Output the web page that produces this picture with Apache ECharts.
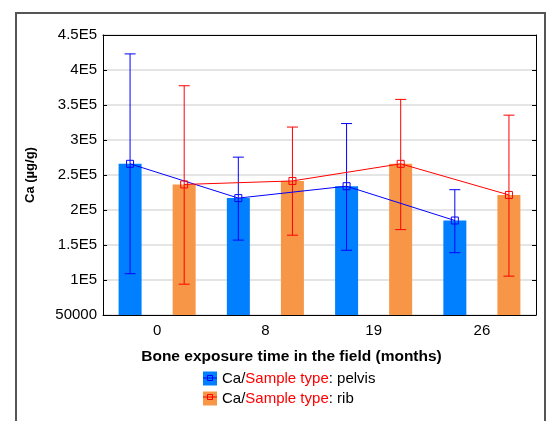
<!DOCTYPE html>
<html>
<head>
<meta charset="utf-8">
<script src="https://cdn.jsdelivr.net/npm/echarts@6/dist/echarts.min.js"></script>
<title>Ca</title>
</head>
<body style="margin:0">
<style>
  html, body, #main { width: 552px; height: 421px; margin: 0; background: #fff; }
</style>
<div id="main"></div>
<script type="text/javascript">
// categories (months)
var months = ['0', '8', '19', '26'];
// Ca means and error bar ends
var pelvisMean = [266000, 217000, 234000, 185000];
var pelvisLow  = [109000, 157000, 142500, 139000];
var pelvisHigh = [423000, 275500, 323500, 229000];
var ribMean = [236500, 241500, 266000, 221500];
var ribLow  = [94000, 164000, 172000, 105500];
var ribHigh = [377500, 318500, 358000, 335500];

var blueBar = '#0080ff', orangeBar = '#f79646';
var blueLine = '#0000ff', redLine = '#ff0000';
var font = 'Arial, "Liberation Sans", sans-serif';

function pts(vals, off) {
  return vals.map(function (v, i) { return [i + off, v]; });
}
function errs(lo, hi, off) {
  return lo.map(function (v, i) { return [i + off, v, hi[i]]; });
}
function errRender(color) {
  return function (params, api) {
    var lo = api.coord([api.value(0), api.value(1)]);
    var hi = api.coord([api.value(0), api.value(2)]);
    var w = 5.5;
    var st = { stroke: color, lineWidth: 1 };
    return {
      type: 'group',
      children: [
        { type: 'line', shape: { x1: lo[0], y1: lo[1], x2: hi[0], y2: hi[1] }, style: st },
        { type: 'line', shape: { x1: lo[0] - w, y1: lo[1], x2: lo[0] + w, y2: lo[1] }, style: st },
        { type: 'line', shape: { x1: hi[0] - w, y1: hi[1], x2: hi[0] + w, y2: hi[1] }, style: st }
      ]
    };
  };
}

var myChart = echarts.init(document.getElementById('main'));

var legendNames = { pelvis: 'pelvis', rib: 'rib' };

var option = {
  animation: false,
  grid: { left: 103, top: 35, width: 433, height: 280 },
  xAxis: [
    {
      type: 'category', data: months, position: 'bottom',
      axisLine: { onZero: false, lineStyle: { color: '#000' } },
      axisTick: { inside: true, alignWithLabel: true, length: 4, lineStyle: { color: '#000' } },
      axisLabel: { color: '#000', fontSize: 15, fontFamily: font, margin: 8 },
      name: 'Bone exposure time in the field (months)',
      nameLocation: 'middle', nameGap: 34,
      nameTextStyle: { color: '#000', fontSize: 15.5, fontWeight: 'bold', fontFamily: font, padding: [0, 56, 0, 0] }
    },
    {
      type: 'category', data: months, position: 'top',
      axisLine: { onZero: false, lineStyle: { color: '#000' } },
      axisTick: { inside: true, alignWithLabel: true, length: 4, lineStyle: { color: '#000' } },
      axisLabel: { show: false }
    },
    { type: 'value', min: -0.5, max: 3.5, show: false }
  ],
  yAxis: [
    {
      type: 'value', min: 50000, max: 450000, interval: 50000,
      axisLine: { show: true, onZero: false, lineStyle: { color: '#000' } },
      axisTick: { show: true, inside: true, length: 4, lineStyle: { color: '#000' } },
      splitLine: { lineStyle: { color: '#dcdcdc', width: 1.5 } },
      axisLabel: {
        color: '#000', fontSize: 15, fontFamily: font, margin: 6,
        formatter: function (v) { return v === 50000 ? '50000' : (v / 100000) + 'E5'; }
      },
      name: 'Ca (µg/g)', nameLocation: 'middle', nameGap: 66,
      nameTextStyle: { color: '#000', fontSize: 13, fontWeight: 'bold', fontFamily: font }
    },
    {
      type: 'value', min: 50000, max: 450000, interval: 50000, position: 'right',
      axisLine: { show: true, onZero: false, lineStyle: { color: '#000' } },
      axisTick: { show: true, inside: true, length: 4, lineStyle: { color: '#000' } },
      axisLabel: { show: false }, splitLine: { show: false }
    }
  ],
  legend: {
    data: ['pelvis', 'rib'],
    orient: 'vertical', left: 203, top: 371, padding: 0,
    itemWidth: 14, itemHeight: 14, itemGap: 5,
    icon: 'rect',
    textStyle: {
      fontSize: 15, fontFamily: font, color: '#000',
      rich: {
        k: { fontSize: 15, fontFamily: font, color: '#000' },
        r: { fontSize: 15, fontFamily: font, color: '#ff0000' }
      }
    },
    formatter: function (name) { return '{k|Ca/}{r|Sample type}{k|: ' + legendNames[name] + '}'; }
  },
  series: [
    {
      name: 'pelvis', type: 'bar', data: pelvisMean, xAxisIndex: 0, yAxisIndex: 0,
      barWidth: 23, barGap: '135%', itemStyle: { color: blueBar }
    },
    {
      name: 'rib', type: 'bar', data: ribMean, xAxisIndex: 0, yAxisIndex: 0,
      barWidth: 23, barGap: '135%', itemStyle: { color: orangeBar }
    },
    {
      name: 'pelvisErr', type: 'custom', xAxisIndex: 2, yAxisIndex: 0, z: 3,
      renderItem: errRender(blueLine), data: errs(pelvisLow, pelvisHigh, -0.25)
    },
    {
      name: 'ribErr', type: 'custom', xAxisIndex: 2, yAxisIndex: 0, z: 3,
      renderItem: errRender(redLine), data: errs(ribLow, ribHigh, 0.25)
    },
    {
      name: 'pelvisLine', type: 'line', xAxisIndex: 2, yAxisIndex: 0, z: 4,
      data: pts(pelvisMean, -0.25), symbol: 'rect', symbolSize: 7,
      lineStyle: { color: blueLine, width: 1 },
      itemStyle: { color: 'rgba(0,0,0,0)', borderColor: blueLine, borderWidth: 1 }
    },
    {
      name: 'ribLine', type: 'line', xAxisIndex: 2, yAxisIndex: 0, z: 4,
      data: pts(ribMean, 0.25), symbol: 'rect', symbolSize: 7,
      lineStyle: { color: redLine, width: 1 },
      itemStyle: { color: 'rgba(0,0,0,0)', borderColor: redLine, borderWidth: 1 }
    }
  ],
  graphic: [
    // outer frame
    { type: 'rect', shape: { x: 16, y: 13, width: 529, height: 430 }, style: { fill: 'none', stroke: '#555', lineWidth: 2 }, z: 0 },
    // line + marker drawn across the legend icons
    { type: 'line', shape: { x1: 203, y1: 378, x2: 217, y2: 378 }, style: { stroke: blueLine, lineWidth: 1 }, z: 10 },
    { type: 'rect', shape: { x: 207.5, y: 375.5, width: 5, height: 5 }, style: { fill: 'none', stroke: blueLine, lineWidth: 1 }, z: 10 },
    { type: 'line', shape: { x1: 203, y1: 397, x2: 217, y2: 397 }, style: { stroke: redLine, lineWidth: 1 }, z: 10 },
    { type: 'rect', shape: { x: 207.5, y: 394.5, width: 5, height: 5 }, style: { fill: 'none', stroke: redLine, lineWidth: 1 }, z: 10 }
  ]
};

myChart.setOption(option);
</script>
</body>
</html>
